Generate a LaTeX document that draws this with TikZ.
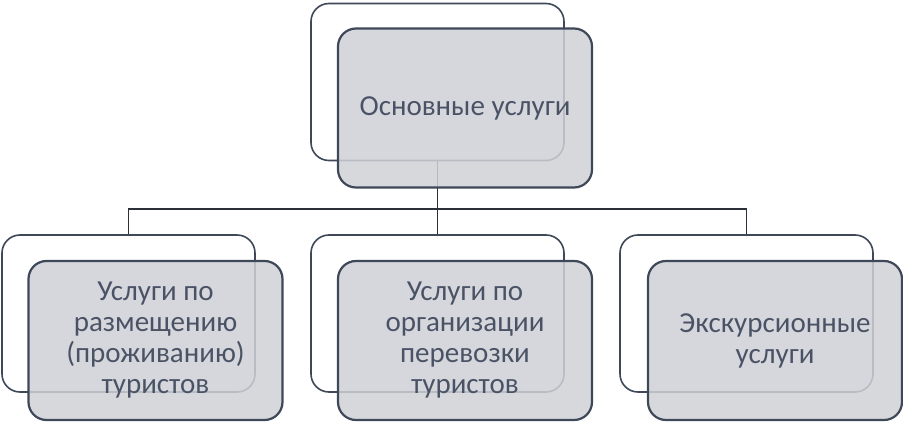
\documentclass[tikz,border=0pt]{standalone}
\usepackage{fontspec}
\setmainfont{Carlito}
\begin{document}
\begin{tikzpicture}[x=1pt,y=1pt,
  backbox/.style={draw=edge,line width=1.6pt,rounded corners=18pt,fill=white,minimum width=253pt,minimum height=157pt,inner sep=0pt},
  frontbox/.style={draw=edge,line width=2.2pt,rounded corners=18pt,fill=boxfill,fill opacity=0.85,text opacity=1,minimum width=254pt,minimum height=159pt,inner sep=0pt,align=center,text=txt,font=\fontsize{29}{31}\selectfont},
  link/.style={draw=linkc,line width=1.8pt}]
\definecolor{edge}{HTML}{3E4859}
\definecolor{linkc}{HTML}{2A2F38}
\definecolor{boxfill}{HTML}{CFD1D6}
\definecolor{txt}{HTML}{4A5366}
\useasboundingbox (0,0) rectangle (903,424);
\node[backbox] (tb) at (437.5,342) {};
\node[backbox] (lb) at (128.5,110.5) {};
\node[backbox] (mb) at (437.5,110.5) {};
\node[backbox] (rb) at (746.5,110.5) {};
\draw[link] (tb.south) -- ++(0,-48) coordinate (j) -| (lb.north);
\draw[link] (j) -| (rb.north);
\draw[link] (j) -- (mb.north);
\node[frontbox] (tf) at (465,316) {Основные услуги};
\node[frontbox] (lf) at (155.5,83.5) {Услуги по\\размещению\\(проживанию)\\туристов};
\node[frontbox] (mf) at (465,83.5) {Услуги по\\организации\\перевозки\\туристов};
\node[frontbox] (rf) at (775,83.5) {Экскурсионные\\услуги};
\end{tikzpicture}
\end{document}
